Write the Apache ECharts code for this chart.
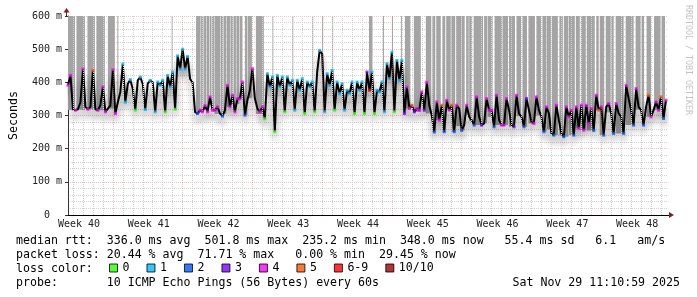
<!DOCTYPE html>
<html><head><meta charset="utf-8">
<script src="https://cdn.jsdelivr.net/npm/echarts@6/dist/echarts.min.js"></script>
<style>html,body{margin:0;padding:0;background:#fff}#c{width:697px;height:297px}</style>
</head><body><div id="c"></div>
<script>
// median rtt in ms, one sample every 0.25 day
const median = [
391,421,318,316, 319,340,440,326, 319,326,436,319, 316,331,386,311, 321,330,438,306,
340,370,455,340, 395,408,380,316, 406,416,395,318, 396,406,400,311, 401,391,406,311,
421,386,431,319, 480,440,500,440, 478,410,400,310, 306,316,311,330, 311,356,316,316,
326,306,298,316, 391,326,361,311, 351,350,401,301, 346,376,441,351, 321,311,326,290,
426,386,416,251, 421,386,416,311, 416,391,406,316, 406,376,411,306, 401,386,401,311,
431,496,486,311, 426,391,436,316, 401,366,396,316, 376,366,401,306, 401,376,401,306,
431,376,431,306, 376,371,401,311, 456,411,491,311, 466,406,466,306, 386,321,331,311,
321,316,371,316, 400,330,300,250, 341,286,331,251, 346,316,331,251, 331,320,255,271,
331,296,286,271, 356,296,271,276, 351,316,316,266, 361,286,271,271, 351,316,271,266,
361,306,296,266, 351,316,281,276, 356,316,296,251, 326,306,246,241, 331,286,246,236,
326,296,316,241, 326,261,331,256, 331,276,321,255, 361,316,326,241, 326,336,306,246,
336,306,296,246, 391,351,316,271, 381,326,316,271, 326,361,296,316, 341,316,356,291,
346
];
// lost pings (of 10) per sample
const loss = [
4,4,4,4, 4,4,4,4, 4,4,5,4, 4,5,4,4, 4,4,4,4,
4,1,1,1, 1,1,1,0, 1,1,1,1, 1,1,1,1, 1,1,1,0,
1,1,1,0, 1,1,1,1, 1,1,1,2, 2,4,4,4, 4,4,4,4,
4,4,2,4, 4,4,4,4, 4,4,4,2, 4,4,4,4, 4,4,4,0,
1,1,1,0, 1,1,1,0, 1,1,1,1, 1,1,1,0, 1,1,1,0,
1,1,1,1, 1,1,1,0, 1,1,1,1, 1,1,1,0, 1,1,1,0,
3,6,1,0, 1,1,1,1, 1,1,1,0, 1,1,1,3, 4,4,5,3,
4,4,4,3, 4,4,4,2, 4,4,5,2, 4,4,5,2, 4,5,2,4,
4,4,4,2, 4,4,3,4, 4,4,4,2, 4,4,4,4, 4,4,4,3,
4,5,4,2, 3,4,4,4, 4,4,4,2, 4,4,4,2, 4,5,4,2,
4,4,4,2, 4,4,4,4, 4,4,4,2, 4,5,4,2, 4,4,4,2,
4,4,4,2, 4,4,4,2, 4,4,4,2, 4,5,4,4, 4,4,5,2,
4
];
// periods (in days from start) drawn as gray loss smoke up to the top
const lossSpans = [
[0,0.7],[0.85,1.7],[1.95,2.7],[2.85,3.7],[4.0,4.7],[4.95,5.05],
[10.4,10.5],
[12.85,13.3],[13.35,13.6],[13.65,13.85],[13.9,14.15],[14.2,14.4],[14.45,14.65],[14.7,15.3],[15.35,15.55],
[15.6,15.9],[15.95,16.25],[16.3,16.55],[16.6,16.85],[16.9,17.2],[17.25,17.5],[17.75,18.0],[18.05,18.45],[18.85,19.65],
[20.5,20.6],[22.5,22.6],[24.5,24.6],[25.5,25.6],[26.5,26.6],[30.2,30.55],[31.6,31.7],[32.5,32.6],[33.4,33.5],
[33.8,34.35],[34.7,35.4],
[35.9,36.45],[36.55,36.85],[36.95,37.4],[37.55,37.85],[37.95,38.4],[38.45,38.85],[38.95,39.45],[39.5,39.8],
[39.95,40.2],[40.25,40.55],[40.7,41.65],[41.75,42.05],[42.1,42.6],[42.8,43.55],[43.6,44.15],[44.25,44.85],
[45.0,45.45],[45.6,46.05],[46.2,46.85],[47.0,47.45],[47.6,48.0],[48.05,48.45],[48.55,49.15],[49.3,49.65],
[49.75,50.2],[50.25,50.85],[50.95,51.35],[51.45,51.95],[52.05,52.85],[53.0,53.25],[53.35,53.8],[53.95,54.45],
[54.5,54.75],[54.95,55.75],[55.95,56.75],[56.95,57.45],[57.55,57.8],[58.05,58.5],[58.8,59.45],[59.55,59.9]
];
const weekLabels = ['Week 40','Week 41','Week 42','Week 43','Week 44','Week 45','Week 46','Week 47','Week 48'];
const lossNames = ['0','1','2','3','4','5','6-9','10/10'];
const lossColors = ['#26ff00','#00b8ff','#0059ff','#7e00ff','#ff00ff','#ff5500','#ff0000','#a10000'];
const statLines = [
  'median rtt:  336.0 ms avg  501.8 ms max  235.2 ms min  348.0 ms now   55.4 ms sd   6.1   am/s',
  'packet loss: 20.44 % avg  71.71 % max   0.00 % min  29.45 % now',
  'loss color:',
  'probe:       10 ICMP Echo Pings (56 Bytes) every 60s'
];
const stamp = 'Sat Nov 29 11:10:59 2025';

const STEP = 0.25;
const XMAX = 60.2;
const MONO = '"DejaVu Sans Mono", monospace';
const MAJOR = 'rgba(230,120,120,0.45)';
const MINOR = '#d2d2d2';

function medAt(x){
  const i = x / STEP, i0 = Math.max(0, Math.min(median.length - 1, Math.floor(i)));
  const i1 = Math.min(i0 + 1, median.length - 1), f = i - i0;
  return median[i0] * (1 - f) + median[i1] * f;
}
function spanBottom(a, b){
  let m = Math.min(medAt(a), medAt(b));
  for (let i = Math.ceil(a / STEP); i * STEP <= b && i < median.length; i++) m = Math.min(m, median[i]);
  return m;
}
function lossClass(l){ return l >= 10 ? 7 : (l >= 6 ? 6 : l); }

const linePts = median.map((v, i) => [i * STEP, v]);
const dotSeries = lossNames.map((name, c) => {
  const pts = [];
  for (let i = 0; i < median.length; i++) {
    const prev = i > 0 ? median[i - 1] : median[i];
    const next = i < median.length - 1 ? median[i + 1] : median[i];
    const ext = (median[i] - prev) * (next - median[i]) <= 0;
    if (ext && lossClass(loss[i]) === c) pts.push([i * STEP, median[i]]);
  }
  return {
    name, type: 'scatter', data: pts, symbol: 'rect', symbolSize: 3, z: 5,
    itemStyle: { color: lossColors[c] }, silent: true
  };
});

const minorX = [], majorX = [];
for (let k = 0; k < 60; k++) {
  const x = 0.5 + k;
  if ((k - 4) % 7 === 0) majorX.push(x); else minorX.push(x);
}
const weekPos = weekLabels.map((_, i) => 1.1 + 7 * i);

const chart = echarts.init(document.getElementById('c'), null, { renderer: 'canvas' });
chart.setOption({
  animation: false,
  backgroundColor: '#fff',
  grid: { left: 66, top: 16, width: 602, height: 199 },
  xAxis: {
    type: 'value', min: 0, max: XMAX,
    axisLine: { show: true, lineStyle: { color: '#000', width: 1 } },
    axisTick: { show: false },
    splitLine: { show: false },
    axisLabel: {
      customValues: weekPos,
      formatter: v => weekLabels[Math.round((v - 1.1) / 7)] || '',
      fontFamily: MONO, fontSize: 10, color: '#222', margin: 4
    }
  },
  yAxis: {
    type: 'value', min: 0, max: 600, interval: 100,
    name: 'Seconds', nameLocation: 'middle', nameRotate: 90, nameGap: 48,
    nameTextStyle: { fontFamily: MONO, fontSize: 11.6, color: '#000' },
    axisLine: { show: true, lineStyle: { color: '#333', width: 1 } },
    axisTick: { show: true, length: 3, lineStyle: { color: '#333' } },
    axisLabel: {
      formatter: v => v === 0 ? '0  ' : v + ' m',
      fontFamily: MONO, fontSize: 10, color: '#222', margin: 6
    },
    splitLine: { show: true, lineStyle: { color: MAJOR, type: [1, 1], width: 1 } },
    minorTick: { show: false, splitNumber: 5 },
    minorSplitLine: { show: true, lineStyle: { color: MINOR, type: [1, 1], width: 1 } }
  },
  legend: {
    data: lossNames, left: 109, top: 262, padding: 0,
    itemWidth: 8, itemHeight: 8, itemGap: 17, icon: 'rect',
    selectedMode: false,
    itemStyle: { borderColor: '#000', borderWidth: 1 },
    textStyle: { fontFamily: MONO, fontSize: 11.6, color: '#000' }
  },
  series: [
    {
      name: 'grid', type: 'line', data: [], z: 1, silent: true,
      markLine: {
        silent: true, symbol: 'none', animation: false,
        label: { show: false },
        data: minorX.map(x => ({ xAxis: x, lineStyle: { color: MINOR, type: [1, 1], width: 1 } }))
          .concat(majorX.map(x => ({ xAxis: x, lineStyle: { color: MAJOR, type: [1, 1], width: 1 } })))
      }
    },
    {
      name: 'lossSmoke', type: 'custom', z: 2, silent: true,
      data: lossSpans.map(s => [s[0], s[1], 600]),
      encode: { x: [0, 1], y: 2 },
      renderItem: (params, api) => {
        const a = api.value(0), b = api.value(1);
        const bottom = spanBottom(a, b);
        const p1 = api.coord([a, 600]);
        const p2 = api.coord([b, bottom]);
        return {
          type: 'rect',
          shape: { x: p1[0], y: p1[1], width: Math.max(p2[0] - p1[0], 1), height: p2[1] - p1[1] },
          style: { fill: '#a4a4a4' }
        };
      }
    },
    {
      name: 'median', type: 'line', data: linePts, symbol: 'none', z: 4, silent: true,
      lineStyle: { color: '#000', width: 2, shadowColor: 'rgba(0,0,0,0.45)', shadowBlur: 7, shadowOffsetY: 8 }
    }
  ].concat(dotSeries),
  graphic: [
    { type: 'text', x: 16, y: 241, style: { text: statLines[0], font: '11.6px ' + MONO, fill: '#000', verticalAlign: 'middle' } },
    { type: 'text', x: 16, y: 255, style: { text: statLines[1], font: '11.6px ' + MONO, fill: '#000', verticalAlign: 'middle' } },
    { type: 'text', x: 16, y: 269, style: { text: statLines[2], font: '11.6px ' + MONO, fill: '#000', verticalAlign: 'middle' } },
    { type: 'text', x: 16, y: 283, style: { text: statLines[3], font: '11.6px ' + MONO, fill: '#000', verticalAlign: 'middle' } },
    { type: 'text', x: 680, y: 283, style: { text: stamp, font: '11.6px ' + MONO, fill: '#000', align: 'right', verticalAlign: 'middle' } },
    { type: 'text', x: 688, y: 5, rotation: -Math.PI / 2, style: { text: 'RRDTOOL / TOBI OETIKER', font: '8.3px ' + MONO, fill: '#c4c4c4', align: 'left', verticalAlign: 'middle' } },
    { type: 'line', shape: { x1: 66.5, y1: 16, x2: 66.5, y2: 12 }, style: { stroke: '#333', lineWidth: 1 } },
    { type: 'polygon', shape: { points: [[63.5, 12.5], [69.5, 12.5], [66.5, 8]] }, style: { fill: '#8b1c1c' } },
    { type: 'line', shape: { x1: 668, y1: 215.5, x2: 670, y2: 215.5 }, style: { stroke: '#000', lineWidth: 1 } },
    { type: 'polygon', shape: { points: [[669, 212], [669, 218], [674, 215]] }, style: { fill: '#8b1c1c' } }
  ]
});
</script>
</body></html>
